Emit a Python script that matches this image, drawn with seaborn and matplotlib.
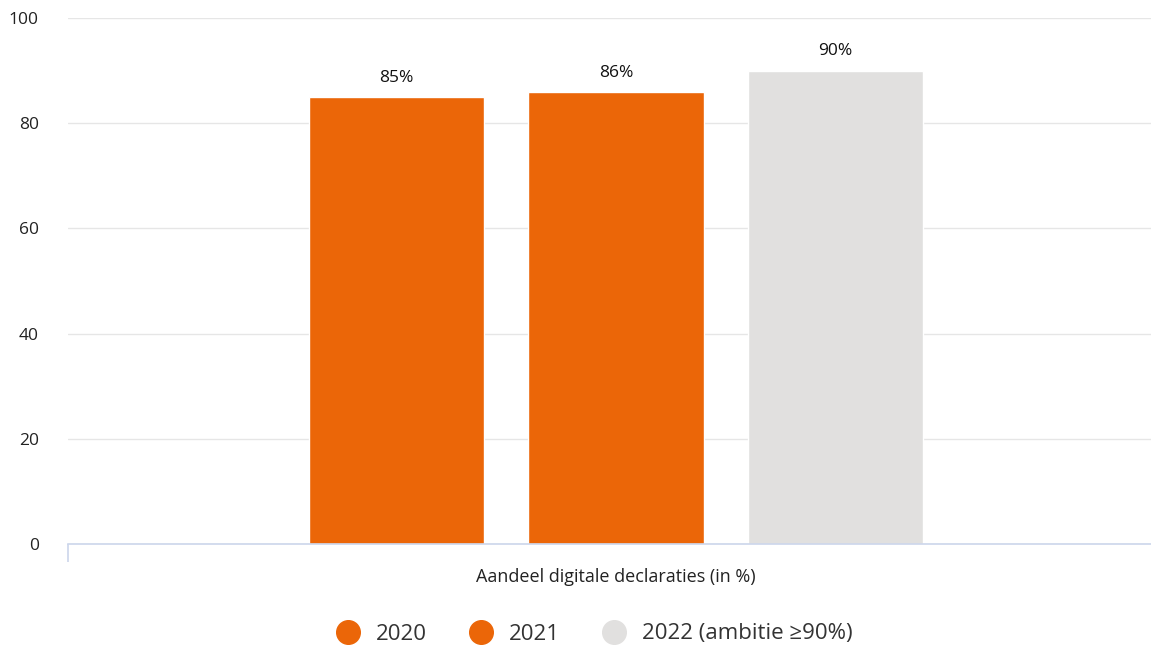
import matplotlib
matplotlib.use("Agg")
import matplotlib.pyplot as plt
from matplotlib.lines import Line2D
import seaborn as sns
import pandas as pd

# Share of digital declarations per year
category = ["Aandeel digitale declaraties (in %)"]
years = ["2020", "2021", "2022 (ambitie ≥90%)"]
values = [85, 86, 90]
colors = ["#EB6608", "#EB6608", "#E1E0DF"]

df = pd.DataFrame({
    "categorie": category * len(years),
    "jaar": years,
    "waarde": values,
})

sns.set_theme(style="white")
plt.rcParams["font.family"] = ["Open Sans", "DejaVu Sans"]

W, H = 1151, 646
fig = plt.figure(figsize=(W / 100, H / 100), dpi=100)
ax = fig.add_axes([68 / W, (H - 544) / H, (1164 - 68) / W, (544 - 18) / H])

sns.barplot(
    data=df, x="categorie", y="waarde", hue="jaar",
    palette=dict(zip(years, colors)), width=0.6, gap=0.2,
    saturation=1, legend=False, ax=ax,
)

ax.set_xlim(-0.5, 0.5)
ax.set_ylim(0, 100)
ax.set_yticks([0, 20, 40, 60, 80, 100])
ax.yaxis.grid(True, color="#e6e6e6", linewidth=1)
ax.set_axisbelow(True)

for side in ("top", "right", "left"):
    ax.spines[side].set_visible(False)
ax.spines["bottom"].set_color("#ccd6eb")
ax.spines["bottom"].set_linewidth(1.2)

ax.tick_params(axis="y", length=0, pad=21, labelsize=12.5, labelcolor="#222222")
ax.tick_params(axis="x", which="major", bottom=False, length=0, pad=17,
               labelsize=13, labelcolor="#222222")
ax.set_xticks([-0.5, 0.5], minor=True)
ax.tick_params(axis="x", which="minor", bottom=True, length=13, width=1.2,
               color="#ccd6eb", direction="out")
ax.set_xlabel("")
ax.set_ylabel("")

for cont in ax.containers:
    ax.bar_label(cont, labels=[f"{v:.0f}%" for v in cont.datavalues],
                 padding=8, fontsize=12.5, color="#111111")

handles = [Line2D([], [], marker="o", linestyle="", markersize=17,
                  markerfacecolor=c, markeredgecolor=c) for c in colors]
fig.legend(handles, years, loc="center", bbox_to_anchor=(589 / W, (H - 634) / H),
           ncol=3, frameon=False, fontsize=16, handletextpad=0.25,
           columnspacing=1.45, labelcolor="#333333")

fig.savefig("out.png", dpi=100)
